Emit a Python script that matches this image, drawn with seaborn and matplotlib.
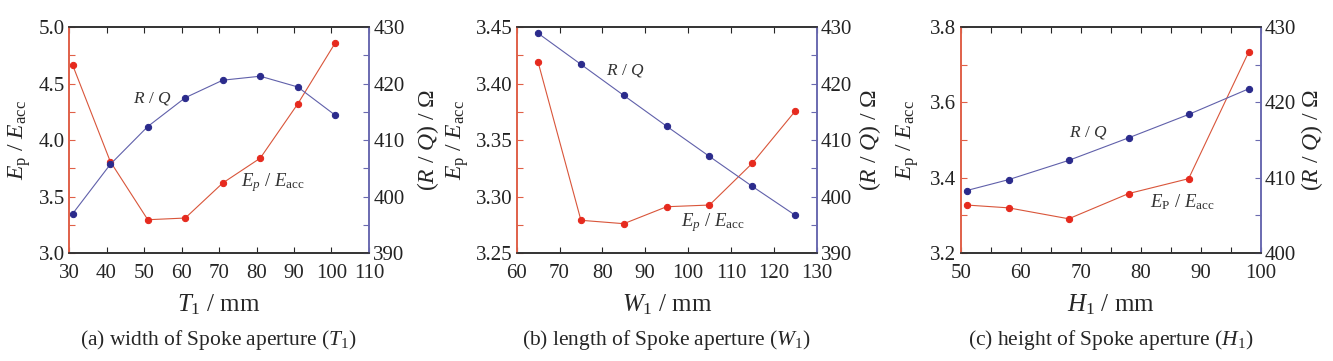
"""
Spoke aperture parameter sweep: E_p/E_acc and R/Q for three dimensions
"""

import numpy as np
import seaborn as sns
import matplotlib.pyplot as plt
from matplotlib.ticker import MultipleLocator, FormatStrFormatter

# (a) width T1
t1 = [31, 41, 51, 61, 71, 81, 91, 101]
t1_ep = [4.66, 3.81, 3.295, 3.31, 3.62, 3.84, 4.32, 4.86]
t1_rq = [397.0, 405.7, 412.4, 417.5, 420.6, 421.3, 419.4, 414.4]

# (b) length W1
w1 = [65, 75, 85, 95, 105, 115, 125]
w1_ep = [3.419, 3.279, 3.276, 3.291, 3.2925, 3.3295, 3.3756]
w1_rq = [428.9, 423.4, 417.9, 412.45, 407.1, 401.8, 396.7]

# (c) height H1
h1 = [51, 58, 68, 78, 88, 98]
h1_ep = [3.3275, 3.32, 3.291, 3.358, 3.3975, 3.7335]
h1_rq = [408.3, 409.75, 412.3, 415.3, 418.4, 421.8]

RED_PT, RED_LN = "#e62a1e", "#d9553a"
BLUE_PT, BLUE_LN = "#2b2b8c", "#6060aa"

sns.set_style("ticks")
plt.rcParams["font.family"] = ["Liberation Serif", "DejaVu Serif"]
plt.rcParams["mathtext.fontset"] = "custom"
plt.rcParams["mathtext.rm"] = "Liberation Serif"
plt.rcParams["mathtext.it"] = "Liberation Serif:italic"

fig = plt.figure(figsize=(13.33, 3.61), dpi=100)

panels = [
    dict(left=0.0518, x=t1, ep=t1_ep, rq=t1_rq, xlim=(30, 110), xminor=None,
         ylim=(3.0, 5.0), ymaj=0.5, ymin=0.25, yfmt="%.1f", rlim=(390, 430),
         xlabel=r"$T_1$ / mm", cap=r"(a) width of Spoke aperture ($T_1$)",
         ylx=-0.165, rlx=1.197,
         rq_pos=(0.277, 0.686), ep_pos=(0.68, 0.31), ep_txt=r"$E_p$ / $E_{\mathrm{acc}}$"),
    dict(left=0.3876, x=w1, ep=w1_ep, rq=w1_rq, xlim=(60, 130), xminor=None,
         ylim=(3.25, 3.45), ymaj=0.05, ymin=0.025, yfmt="%.2f", rlim=(390, 430),
         xlabel=r"$W_1$ / mm", cap=r"(b) length of Spoke aperture ($W_1$)",
         ylx=-0.196, rlx=1.178,
         rq_pos=(0.361, 0.81), ep_pos=(0.654, 0.133), ep_txt=r"$E_p$ / $E_{\mathrm{acc}}$"),
    dict(left=0.7207, x=h1, ep=h1_ep, rq=h1_rq, xlim=(50, 100), xminor=5,
         ylim=(3.2, 3.8), ymaj=0.2, ymin=0.1, yfmt="%.1f", rlim=(400, 430),
         xlabel=r"$H_1$ / mm", cap=r"(c) height of Spoke aperture ($H_1$)",
         ylx=-0.176, rlx=1.17,
         rq_pos=(0.424, 0.535), ep_pos=(0.738, 0.226), ep_txt=r"$E_{\mathrm{P}}$ / $E_{\mathrm{acc}}$"),
]

for p in panels:
    ax = fig.add_axes([p["left"], 0.299, 0.225, 0.626])
    ax2 = ax.twinx()

    sns.lineplot(x=p["x"], y=p["ep"], ax=ax, color=RED_LN, lw=0.8,
                 marker="o", markersize=4.5, markerfacecolor=RED_PT,
                 markeredgecolor=RED_PT)
    sns.lineplot(x=p["x"], y=p["rq"], ax=ax2, color=BLUE_LN, lw=0.8,
                 marker="o", markersize=4.5, markerfacecolor=BLUE_PT,
                 markeredgecolor=BLUE_PT)

    ax.set_xlim(*p["xlim"])
    ax.set_ylim(*p["ylim"])
    ax2.set_ylim(*p["rlim"])
    ax.xaxis.set_major_locator(MultipleLocator(10))
    if p["xminor"]:
        ax.xaxis.set_minor_locator(MultipleLocator(p["xminor"]))
    ax.yaxis.set_major_locator(MultipleLocator(p["ymaj"]))
    ax.yaxis.set_minor_locator(MultipleLocator(p["ymin"]))
    ax.yaxis.set_major_formatter(FormatStrFormatter(p["yfmt"]))
    ax2.yaxis.set_major_locator(MultipleLocator(10))
    ax2.yaxis.set_minor_locator(MultipleLocator(5))

    ax.tick_params(which="both", direction="in", length=4, width=0.8,
                   top=True, bottom=True, labelsize=15, pad=3)
    ax.tick_params(axis="x", pad=8)
    ax2.tick_params(which="both", direction="in", length=4, width=0.8,
                    labelsize=15, pad=3)

    for a in (ax, ax2):
        a.spines["top"].set_color("#333333")
        a.spines["bottom"].set_color("#333333")
        a.spines["left"].set_color("#e06048")
        a.spines["right"].set_color("#6a6ab0")
        for s in a.spines.values():
            s.set_linewidth(1.2)
            s.set_visible(True)
    ax.tick_params(axis="y", which="both", colors="#e06048", labelcolor="#222222")
    ax2.tick_params(axis="y", which="both", colors="#6a6ab0", labelcolor="#222222")

    ax.set_xlabel(p["xlabel"], fontsize=18)
    ax.set_ylabel(r"$E_{\mathrm{p}}$ / $E_{\mathrm{acc}}$", fontsize=17)
    ax2.set_ylabel(r"($R$ / $Q$) / Ω", fontsize=17)
    for lbl in (ax.xaxis.label, ax.yaxis.label, ax2.yaxis.label):
        lbl.set_rotation_mode("default")
        lbl.set_horizontalalignment("center")
        lbl.set_verticalalignment("center")
    ax.xaxis.set_label_coords(0.5, -0.23)
    ax.yaxis.set_label_coords(p["ylx"], 0.5)
    ax2.yaxis.set_label_coords(p["rlx"], 0.5)

    ax.text(0.5, -0.385, p["cap"], transform=ax.transAxes, ha="center",
            va="center", fontsize=15.5)
    ax.text(*p["rq_pos"], r"$R$ / $Q$", transform=ax.transAxes, ha="center",
            va="center", fontsize=12.5, color="#333333")
    ax.text(*p["ep_pos"], p["ep_txt"], transform=ax.transAxes, ha="center",
            va="center", fontsize=13.5, color="#333333")

fig.savefig("out.png", dpi=100)
